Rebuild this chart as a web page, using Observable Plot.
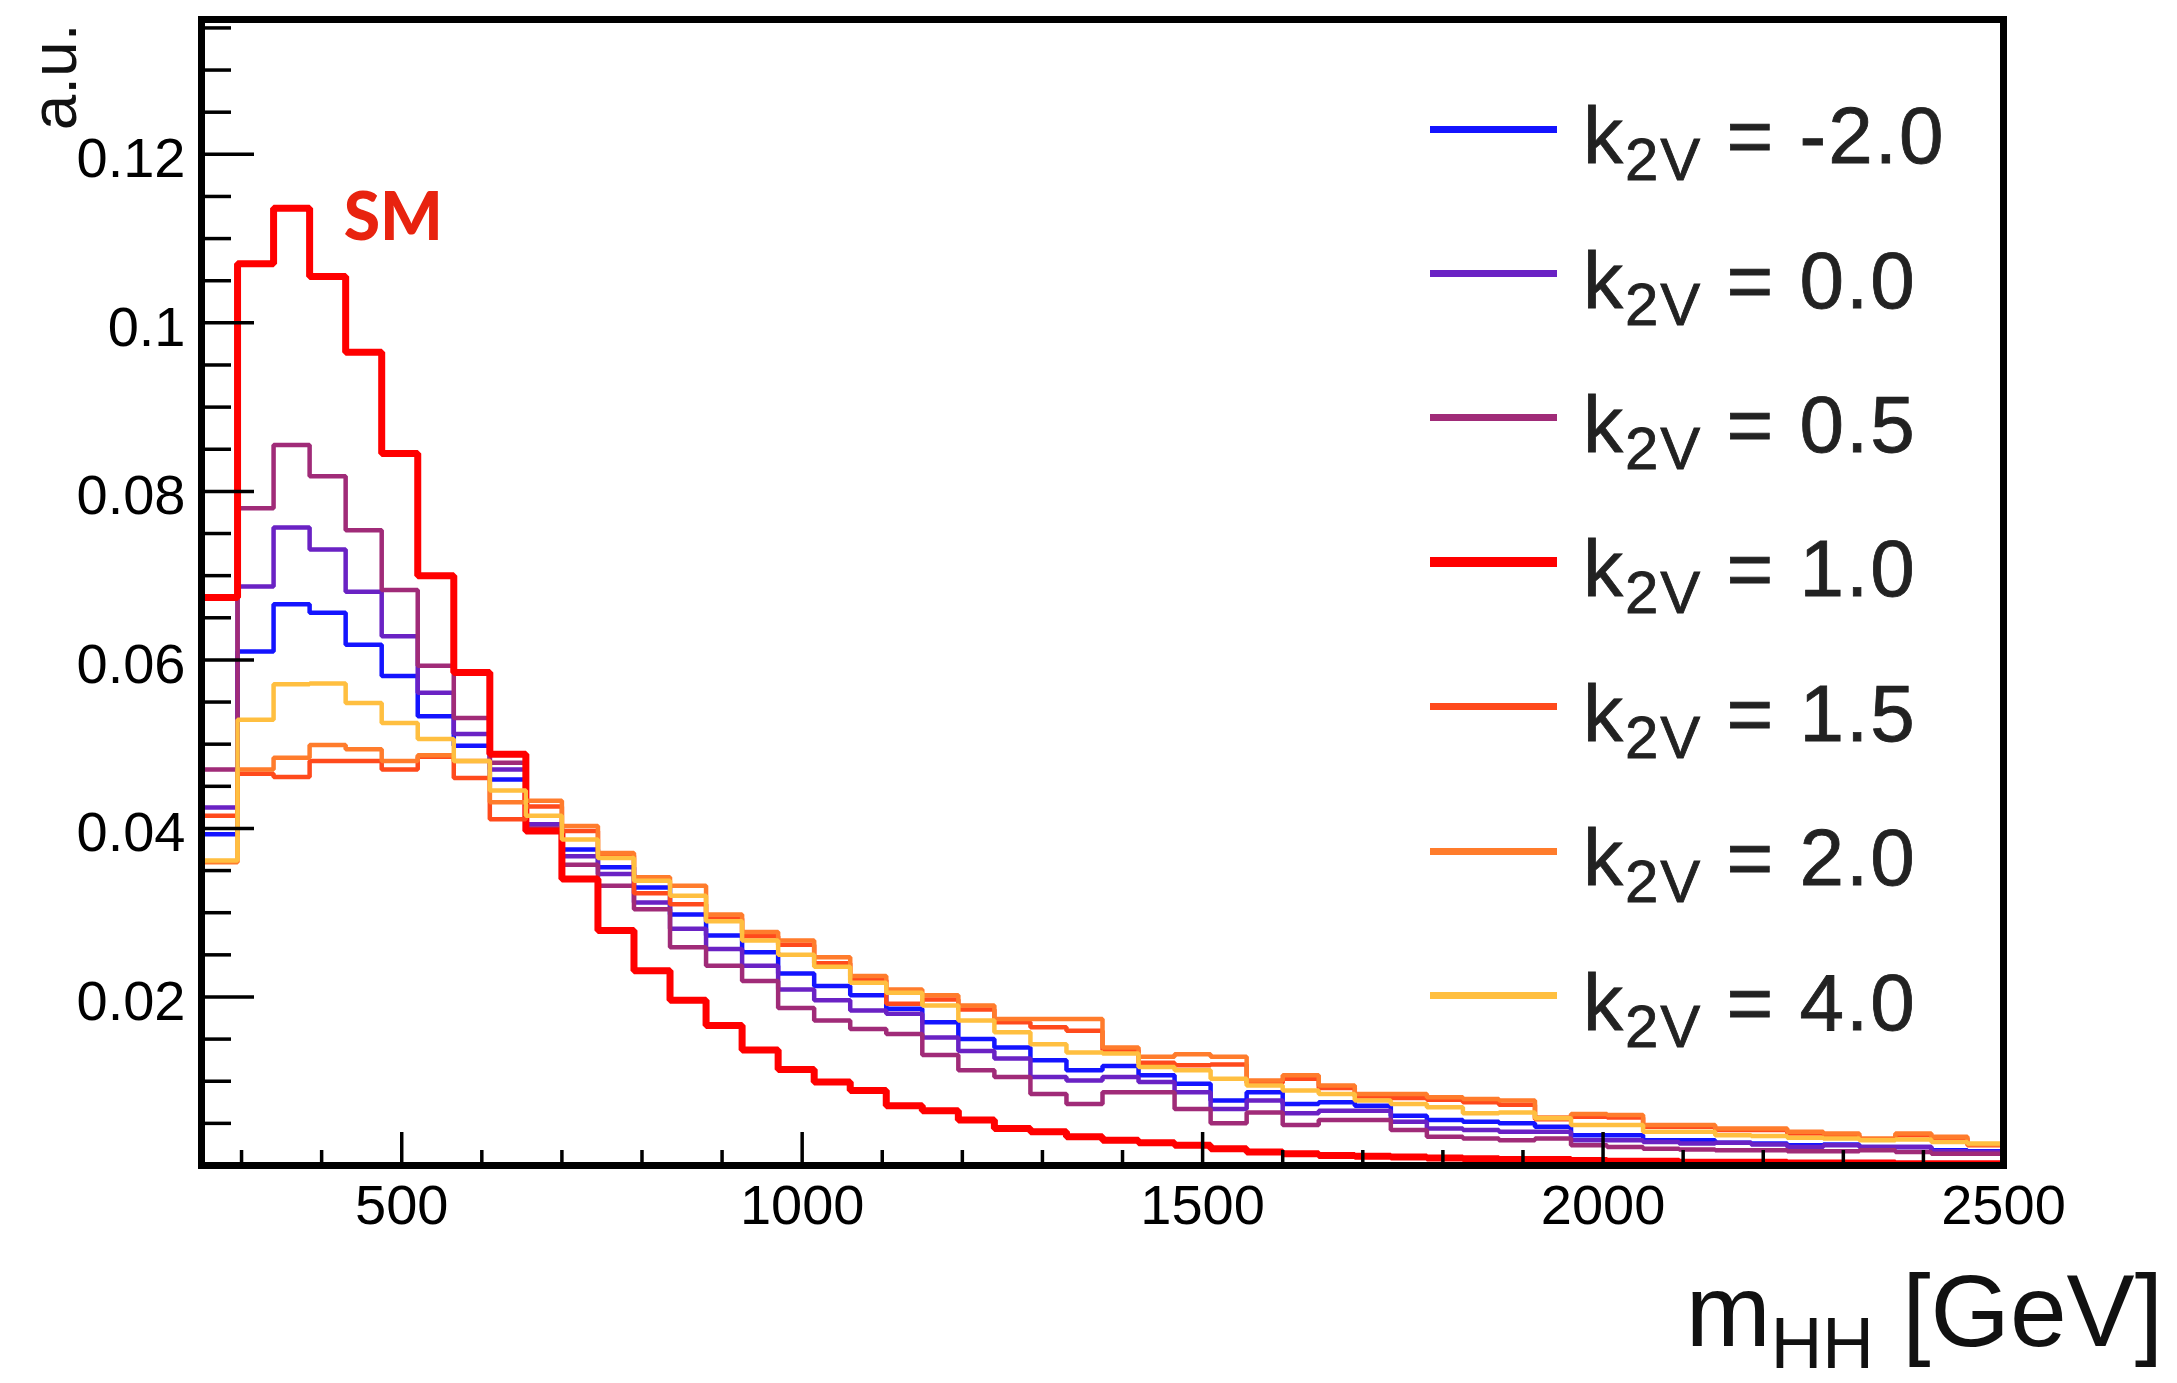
<!DOCTYPE html>
<html>
<head>
<meta charset="utf-8">
<script src="https://cdn.jsdelivr.net/npm/d3@7"></script>
<script src="https://cdn.jsdelivr.net/npm/@observablehq/plot@0.6"></script>
<style>
  html, body { margin: 0; padding: 0; background: #fff; }
  #wrap { position: relative; width: 2177px; height: 1383px; overflow: hidden; font-family: "Liberation Sans", Arial, sans-serif; }
  #wrap svg { position: absolute; left: 0; top: 0; }
  .leg-swatch { position: absolute; }
  .leg-text { position: absolute; font-size: 80px; line-height: 80px; letter-spacing: 2px; color: #222; white-space: nowrap; -webkit-text-stroke: 0.8px #222; }
  .leg-text sub { font-size: 0.75em; vertical-align: -17px; line-height: 0; }
  #xtitle { position: absolute; right: 14px; font-size: 102px; line-height: 102px; color: #111; white-space: nowrap; }
  #xtitle sub { font-size: 0.7em; vertical-align: -22px; line-height: 0; }
</style>
</head>
<body>
<div id="wrap"></div>
<script>
// ---- binning (m_HH in GeV) ----
const binStart = 250;
const binWidth = 45;

// ---- series values (a.u.), one per 45 GeV bin from 250 to 2500 GeV ----
const k2vM20 = [0.0393,0.0610,0.0666,0.0656,0.0618,0.0581,0.0533,0.0498,0.0458,0.0405,
                0.0375,0.0354,0.0330,0.0298,0.0273,0.0253,0.0228,0.0213,0.0202,0.0186,
                0.0170,0.0150,0.0140,0.0125,0.0113,0.0118,0.0107,0.0097,0.0077,0.0087,
                0.0073,0.0075,0.0071,0.0059,0.0054,0.0052,0.0050,0.0046,0.0036,0.0036,
                0.0030,0.0030,0.0027,0.0026,0.0024,0.0025,0.0022,0.0022,0.0018,0.0017];
const k2v00  = [0.0425,0.0687,0.0757,0.0731,0.0681,0.0628,0.0561,0.0512,0.0470,0.0405,
                0.0367,0.0346,0.0312,0.0281,0.0257,0.0237,0.0209,0.0196,0.0184,0.0180,
                0.0152,0.0136,0.0127,0.0105,0.0101,0.0105,0.0099,0.0087,0.0067,0.0077,
                0.0062,0.0065,0.0065,0.0052,0.0044,0.0042,0.0040,0.0040,0.0030,0.0030,
                0.0028,0.0026,0.0027,0.0025,0.0022,0.0024,0.0022,0.0022,0.0017,0.0016];
const k2v05  = [0.0470,0.0780,0.0855,0.0818,0.0754,0.0683,0.0593,0.0531,0.0478,0.0400,
                0.0357,0.0332,0.0304,0.0259,0.0237,0.0219,0.0187,0.0172,0.0162,0.0156,
                0.0131,0.0113,0.0105,0.0085,0.0073,0.0087,0.0087,0.0067,0.0050,0.0063,
                0.0048,0.0054,0.0054,0.0042,0.0034,0.0032,0.0030,0.0032,0.0024,0.0022,
                0.0020,0.0019,0.0018,0.0018,0.0017,0.0017,0.0018,0.0016,0.0014,0.0014];
const k2v10  = [0.0674,0.1070,0.1136,0.1055,0.0965,0.0845,0.0700,0.0585,0.0488,0.0397,
                0.0340,0.0279,0.0231,0.0196,0.0166,0.0137,0.0114,0.0099,0.0089,0.0071,
                0.0065,0.0054,0.0044,0.0040,0.0034,0.0030,0.0027,0.0024,0.0020,0.0016,
                0.0014,0.0012,0.0011,0.0010,0.0009,0.0008,0.0007,0.0007,0.0006,0.0005,
                0.0005,0.0004,0.0004,0.0004,0.0003,0.0003,0.0003,0.0002,0.0002,0.0002];
const k2v15  = [0.0415,0.0465,0.0461,0.0480,0.0480,0.0470,0.0485,0.0460,0.0411,0.0426,
                0.0397,0.0368,0.0323,0.0310,0.0293,0.0272,0.0262,0.0240,0.0220,0.0192,
                0.0197,0.0185,0.0170,0.0164,0.0160,0.0137,0.0122,0.0119,0.0120,0.0098,
                0.0103,0.0092,0.0082,0.0080,0.0078,0.0075,0.0072,0.0055,0.0058,0.0057,
                0.0046,0.0046,0.0042,0.0042,0.0038,0.0036,0.0031,0.0036,0.0032,0.0024];
const k2v20  = [0.0360,0.0470,0.0484,0.0499,0.0494,0.0480,0.0487,0.0480,0.0431,0.0433,
                0.0403,0.0371,0.0342,0.0332,0.0298,0.0277,0.0267,0.0247,0.0225,0.0209,
                0.0202,0.0190,0.0174,0.0174,0.0174,0.0140,0.0129,0.0132,0.0129,0.0101,
                0.0107,0.0095,0.0085,0.0085,0.0081,0.0079,0.0077,0.0057,0.0061,0.0060,
                0.0048,0.0048,0.0044,0.0044,0.0040,0.0038,0.0032,0.0038,0.0034,0.0025];
const k2v40  = [0.0362,0.0529,0.0571,0.0572,0.0549,0.0525,0.0506,0.0480,0.0445,0.0415,
                0.0387,0.0365,0.0338,0.0320,0.0290,0.0267,0.0250,0.0236,0.0217,0.0205,
                0.0190,0.0172,0.0158,0.0144,0.0134,0.0133,0.0117,0.0113,0.0103,0.0095,
                0.0089,0.0085,0.0077,0.0073,0.0069,0.0062,0.0063,0.0056,0.0048,0.0048,
                0.0040,0.0040,0.0036,0.0035,0.0033,0.0032,0.0030,0.0031,0.0028,0.0026];

const seriesLabels = ["-2.0", "0.0", "0.5", "1.0", "1.5", "2.0", "4.0"];
const seriesValues = [k2vM20, k2v00, k2v05, k2v10, k2v15, k2v20, k2v40];

// ---- axis ticks ----
const xMajorTicks = [500, 1000, 1500, 2000, 2500];
const xMinorTicks = [300, 400, 600, 700, 800, 900, 1100, 1200, 1300, 1400, 1600, 1700, 1800, 1900, 2100, 2200, 2300, 2400];
const yMajorTicks = [0.02, 0.04, 0.06, 0.08, 0.1, 0.12];
const yMinorTicks = [0.005, 0.01, 0.015, 0.025, 0.03, 0.035, 0.045, 0.05, 0.055, 0.065, 0.07, 0.075,
                     0.085, 0.09, 0.095, 0.105, 0.11, 0.115, 0.125, 0.13, 0.135];

// ---- styles ----
const seriesColors = ["#1414ff", "#6a22c4", "#a02b78", "#ff0000", "#ff4a1c", "#ff7c2c", "#ffbf40"];
const seriesWidths = [4.5, 4.5, 4.5, 7, 4.5, 4.5, 4.5];
const legendWidths = [7, 7, 7, 10, 7, 7, 7];

const W = 2177, H = 1383;
const mL = 201, mR = 174, mT = 19, mB = 218;
const plotW = W - mL - mR, plotH = H - mT - mB;

function outline(values) {
  const pts = [{x: binStart, y: 0}];
  values.forEach((v, i) => pts.push({x: binStart + i * binWidth, y: v}));
  const end = binStart + values.length * binWidth;
  pts.push({x: end, y: values[values.length - 1]});
  pts.push({x: end, y: 0});
  return pts;
}

const lineMarks = seriesValues.map((vals, i) =>
  Plot.line(outline(vals), {
    x: "x", y: "y", curve: "step-after",
    stroke: seriesColors[i], strokeWidth: seriesWidths[i],
    strokeLinejoin: "miter", strokeLinecap: "butt"
  })
);

const peakIdx = d3.maxIndex(k2v10);
const smLabel = [{x: binStart + (peakIdx + 2) * binWidth, y: k2v10[peakIdx], t: "SM"}];

const chart = Plot.plot({
  width: W, height: H,
  marginLeft: mL, marginRight: mR, marginTop: mT, marginBottom: mB,
  x: {domain: [binStart, binStart + k2v10.length * binWidth]},
  y: {domain: [0, 0.136]},
  style: {fontFamily: "Liberation Sans, Arial, sans-serif", fontSize: "56px", color: "#000", background: "transparent", overflow: "visible"},
  marks: [
    ...lineMarks,
    Plot.tickY(yMinorTicks, {y: d => d, insetRight: plotW - 30, stroke: "#000", strokeWidth: 3.5}),
    Plot.tickY(yMajorTicks, {y: d => d, insetRight: plotW - 53, stroke: "#000", strokeWidth: 3.5}),
    Plot.tickX(xMinorTicks, {x: d => d, insetTop: plotH - 15, stroke: "#000", strokeWidth: 3.5}),
    Plot.tickX(xMajorTicks, {x: d => d, insetTop: plotH - 33, stroke: "#000", strokeWidth: 3.5}),
    Plot.axisY({ticks: yMajorTicks, tickSize: 0, tickPadding: 16, tickFormat: d => String(d), label: null, fontSize: 56, dy: 5}),
    Plot.axisX({ticks: xMajorTicks, tickSize: 0, tickPadding: 19, tickFormat: d => String(d), label: null, fontSize: 56}),
    Plot.frame({stroke: "#000", strokeWidth: 7}),
    Plot.text(smLabel, {x: "x", y: "y", text: "t", textAnchor: "start", lineAnchor: "middle", dx: -2, dy: 11,
      fontFamily: "Lato, Open Sans, sans-serif", fontWeight: 900, fontSize: 66, fill: "#e8230f", letterSpacing: 5}),
    Plot.text(["a.u."], {text: d => d, frameAnchor: "top-left", rotate: -90, textAnchor: "end", lineAnchor: "middle",
      dx: -146, dy: 4, fontSize: 64, fill: "#111"})
  ]
});

const wrap = document.getElementById("wrap");
wrap.appendChild(chart);

// ---- legend (overlay) ----
const legLeft = 1430, legSwatchW = 127, legTextLeft = 1583;
const legTop = 129, legStep = 144.4;
seriesLabels.forEach((lab, i) => {
  const cy = legTop + i * legStep;
  const sw = document.createElement("div");
  sw.className = "leg-swatch";
  sw.style.left = legLeft + "px";
  sw.style.width = legSwatchW + "px";
  sw.style.height = legendWidths[i] + "px";
  sw.style.top = (cy - legendWidths[i] / 2) + "px";
  sw.style.background = seriesColors[i];
  wrap.appendChild(sw);
  const tx = document.createElement("div");
  tx.className = "leg-text";
  tx.style.left = legTextLeft + "px";
  tx.style.top = (cy + 35 - 0.8465 * 80) + "px";
  tx.innerHTML = "k<sub>2V</sub> = " + lab;
  wrap.appendChild(tx);
});

// ---- x axis title ----
const xt = document.createElement("div");
xt.id = "xtitle";
xt.style.top = (1346 - 0.8465 * 102) + "px";
xt.innerHTML = "m<sub>HH</sub> [GeV]";
wrap.appendChild(xt);
</script>
</body>
</html>
